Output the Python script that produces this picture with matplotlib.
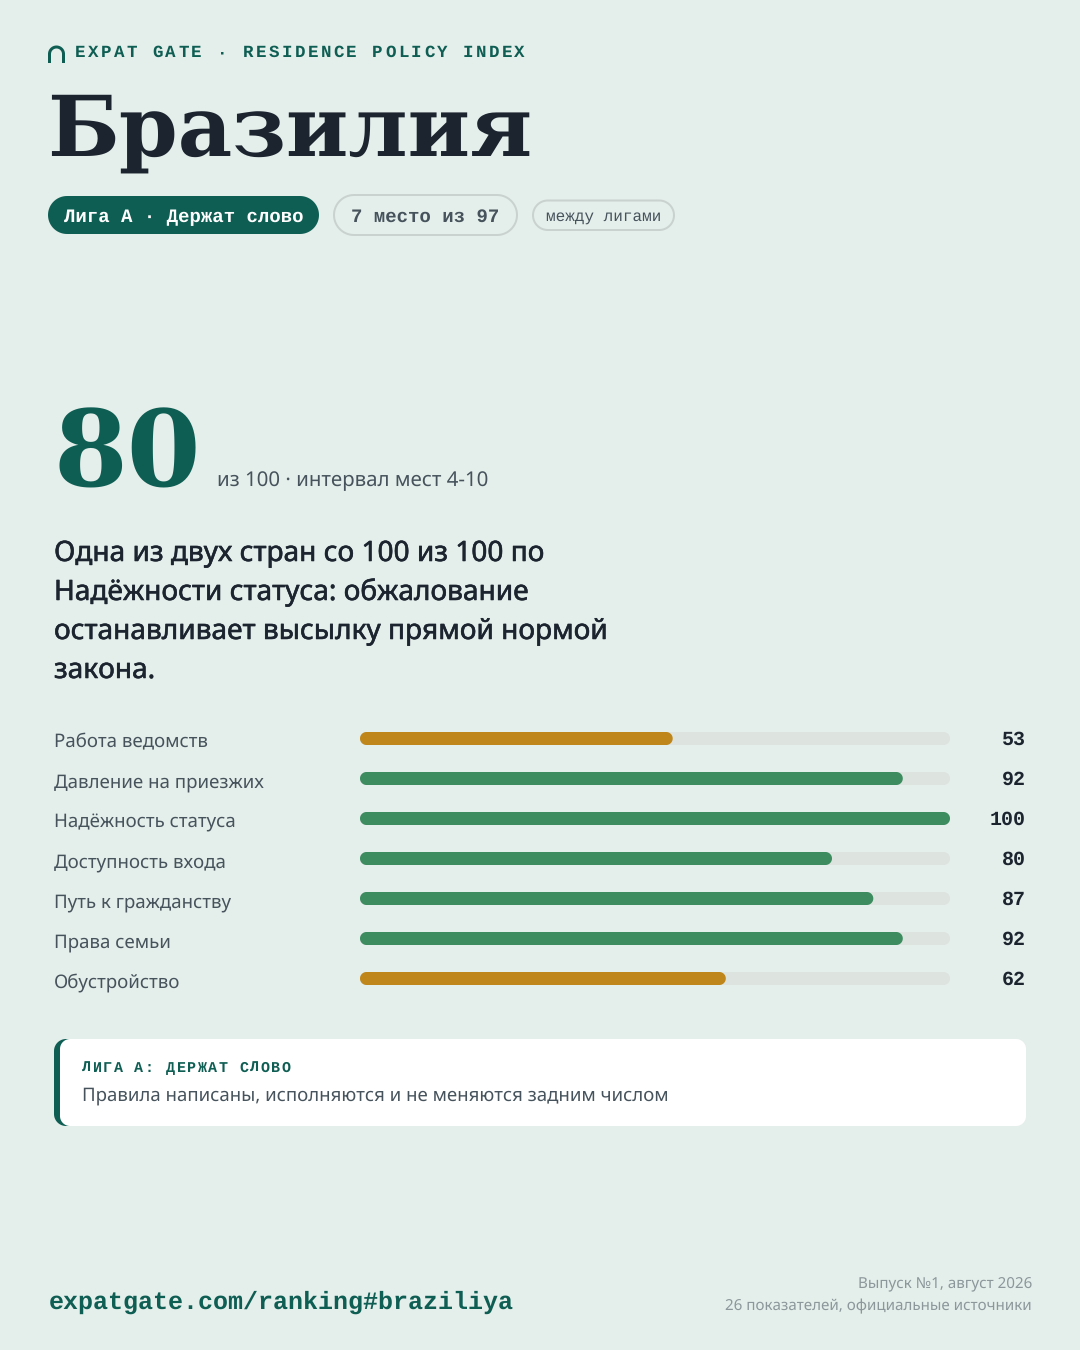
import numpy as np
import matplotlib
matplotlib.use("Agg")
import matplotlib.pyplot as plt
import matplotlib.patheffects as pe
from matplotlib.patches import PathPatch, Polygon
from matplotlib.path import Path
from matplotlib.text import Text
from matplotlib.transforms import IdentityTransform

plt.rcParams["text.hinting"] = "none"

# ---------- data ----------
categories = ["Работа ведомств", "Давление на приезжих", "Надёжность статуса",
              "Доступность входа", "Путь к гражданству", "Права семьи", "Обустройство"]
scores = [53, 92, 100, 80, 87, 92, 62]
bar_colors = ["#bf861b", "#3d8c60", "#3d8c60", "#3d8c60", "#3d8c60", "#3d8c60", "#bf861b"]
headline = ["Одна из двух стран со 100 из 100 по",
            "Надёжности статуса: обжалование",
            "останавливает высылку прямой нормой",
            "закона."]
eyebrow = "EXPAT GATE · RESIDENCE POLICY INDEX"
city = "Бразилия"
total_score = "80"
score_note = "из 100 · интервал мест 4-10"
pills = ["Лига А · Держат слово", "7 место из 97", "между лигами"]
callout_title = "ЛИГА А: ДЕРЖАТ СЛОВО"
callout_text = "Правила написаны, исполняются и не меняются задним числом"
url = "expatgate.com/ranking#braziliya"
footer_lines = ["Выпуск №1, август 2026", "26 показателей, официальные источники"]

BG = "#e4eeea"; TEAL = "#0f5e54"; INK = "#1c2430"; SLATE = "#46535c"
TRACK = "#dde4e0"; BORDER = "#c9d2cf"; MUTED = "#8b979b"
MONO = "Liberation Mono"; SERIF = "DejaVu Serif"; SANS = "Noto Sans"
px = 0.72  # font px -> pt at dpi 100

fig = plt.figure(figsize=(10.8, 13.5), dpi=100, facecolor=BG)
page = fig.add_axes([0, 0, 1, 1])
page.set_xlim(0, 1080); page.set_ylim(1350, 0); page.axis("off")


class TrackedText(Text):
    """One text artist drawn with CSS-like letter spacing (advance in px)."""
    def __init__(self, x, y, s, advance, **kw):
        super().__init__(x, y, s, **kw)
        self.advance = advance

    def draw(self, renderer):
        x, y = self.get_transform().transform(self.get_position())
        for i, ch in enumerate(self.get_text()):
            t = Text(x + i * self.advance, y, ch, fontproperties=self.get_fontproperties(),
                     color=self.get_color(), va="baseline", ha="left",
                     transform=IdentityTransform())
            t.set_figure(self.get_figure())
            t.draw(renderer)


def label(x, y, s, size, color, family=SANS, weight="normal", ha="left"):
    return page.text(x, y, s, fontsize=size * px, color=color, family=family,
                     fontweight=weight, ha=ha, va="baseline")


def tracked(x, y, s, size, advance, color):
    t = TrackedText(x, y, s, advance, fontsize=size * px, color=color, family=MONO,
                    fontweight="bold", transform=page.transData)
    page.add_artist(t)
    return t


def rounded(x0, y0, x1, y1, rx, ry):
    """Outline of a rounded rectangle with true circular corners."""
    a = np.linspace(0, np.pi / 2, 16)
    c, s = np.cos(a), np.sin(a)
    return np.vstack([
        np.c_[x1 - rx + rx * c, y1 - ry + ry * s],
        np.c_[x0 + rx - rx * s, y1 - ry + ry * c],
        np.c_[x0 + rx - rx * c, y0 + ry - ry * s],
        np.c_[x1 - rx + rx * s, y0 + ry - ry * c],
    ])


def rbox(x0, y0, x1, y1, r, face, edge="none", lw=0, z=1):
    p = Polygon(rounded(x0, y0, x1, y1, r, r), closed=True, fc=face, ec=edge, lw=lw, zorder=z)
    page.add_patch(p)
    return p


# ---------- header ----------
th = np.linspace(np.pi, 0, 40)
arch_pts = np.vstack([[49.5, 63], np.c_[56.5 + 7 * np.cos(th), 54 - 7 * np.sin(th)], [63.5, 63]])
page.add_patch(PathPatch(Path(arch_pts), fc="none", ec=TEAL, lw=3 * px, capstyle="butt"))
tracked(75, 57, eyebrow, 17.5, 12.92, TEAL)
label(47.5, 156, city, 84.2, INK, SERIF, "bold")

rbox(48, 196, 319, 234, 19, TEAL)
label(64, 222, pills[0], 19, "white", MONO, "bold")
rbox(334, 195, 517, 235, 20, BG, BORDER, 2 * px)
label(351, 222, pills[1], 19, SLATE, MONO, "bold")
rbox(533, 200.5, 674, 230, 14.75, BG, BORDER, 2 * px)
label(546, 221, pills[2], 16, SLATE, MONO)

# ---------- score ----------
label(53.5, 486, total_score, 106, TEAL, SERIF, "bold")
label(217, 486, score_note, 20.45, SLATE)
for i, line in enumerate(headline):
    t = label(54, 561 + 39 * i, line, 28.05, INK)
    t.set_path_effects([pe.withStroke(linewidth=0.4, foreground=INK)])

# ---------- bars ----------
ax = fig.add_axes([360 / 1080, 1 - 998.5 / 1350, 590 / 1080, 280 / 1350])
ax.set_xlim(0, 100)
ax.set_ylim(6.5, -0.5)
ax.axis("off")
ax.patch.set_alpha(0)
x_px = 590 / 100
y_px = 40
bar_h = 13 / y_px
for i, (name, value, color) in enumerate(zip(categories, scores, bar_colors)):
    for v, c, z in ((100, TRACK, 1), (value, color, 2)):
        ax.add_patch(Polygon(rounded(0, i - bar_h / 2, v, i + bar_h / 2, 6.5 / x_px, 6.5 / y_px),
                             closed=True, fc=c, ec="none", zorder=z))
    label(54, 747.05 + 40 * i, name, 18.7, SLATE)
    label(1026, 745 + 40 * i, str(value), 20, INK, MONO, "bold", ha="right")

# ---------- callout ----------
rbox(54, 1039, 90, 1126, 12, TEAL, z=1)
rbox(60, 1039, 1026, 1126, 10, "white", z=2)
t = tracked(82, 1072, callout_title, 15, 10.5, TEAL); t.set_zorder(3)
label(82, 1101, callout_text, 18.63, SLATE).set_zorder(3)

# ---------- footer ----------
label(48.5, 1309, url, 25, TEAL, MONO, "bold")
label(1032, 1288, footer_lines[0], 15.15, MUTED, ha="right")
label(1032, 1310, footer_lines[1], 15.15, MUTED, ha="right")

fig.savefig("out.png", dpi=100, facecolor=BG)
